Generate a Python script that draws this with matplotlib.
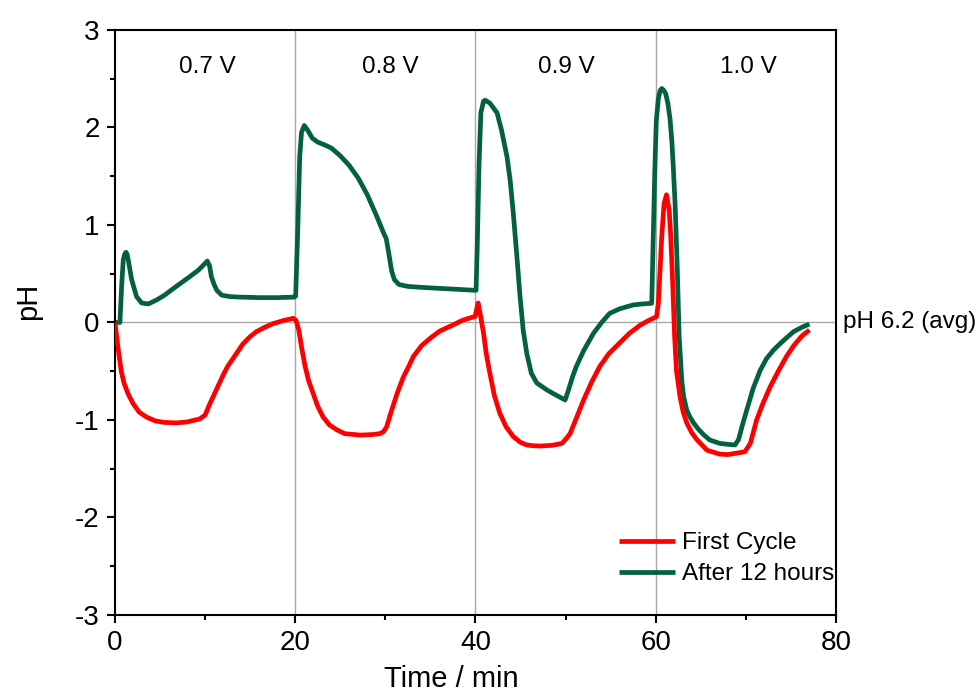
import matplotlib
matplotlib.use("Agg")
import matplotlib.pyplot as plt
from matplotlib.ticker import MultipleLocator
import matplotlib.transforms as mtransforms

plt.rcParams['font.family'] = ['Liberation Sans', 'DejaVu Sans']
plt.rcParams['axes.unicode_minus'] = False

# ---- data ----
t_after = [0.0, 0.55, 0.74, 0.92, 1.08, 1.22, 1.35, 1.48, 1.85, 2.4, 2.96, 3.7, 4.6, 5.5, 6.5, 7.4, 8.3,
           9.3, 10.25, 10.5, 10.7, 11.0, 11.3, 11.85, 12.8, 14.0, 16.0, 18.0, 19.9,
           20.05, 20.3, 20.5, 20.7, 21.0, 21.4, 21.9, 22.5, 23.3, 24.0, 25.0, 26.0, 27.0, 28.0,
           29.0, 29.8, 30.1, 30.4, 30.7, 31.0, 31.5, 32.5, 34.0, 36.0, 38.0, 39.9,
           40.07, 40.2, 40.4, 40.6, 40.9, 41.07, 41.6, 42.4, 42.9, 43.5, 43.85, 44.2, 44.6, 44.95,
           45.3, 45.7, 46.2, 46.8, 47.9, 48.65, 49.95, 50.3, 50.8, 51.2, 52.0, 53.1, 54.0, 54.9,
           56.0, 57.5, 58.5, 59.56,
           59.9, 60.07, 60.3, 60.5, 60.68, 60.9, 61.1, 61.35, 61.6, 61.8, 61.97, 62.15, 62.4, 62.6,
           62.9, 63.1, 63.45, 63.8, 64.2, 64.7, 65.3, 66.0, 67.1, 68.0, 68.8, 69.2, 69.6, 70.1,
           70.8, 71.6, 72.3, 73.1, 74.0, 75.3, 76.2, 77.06]
ph_after = [0.00, 0.00, 0.37, 0.64, 0.70, 0.72, 0.70, 0.64, 0.44, 0.265, 0.20, 0.19, 0.23, 0.28, 0.35, 0.41, 0.47,
            0.54, 0.63, 0.58, 0.47, 0.39, 0.33, 0.28, 0.265, 0.26, 0.255, 0.255, 0.26,
            0.27, 1.00, 1.70, 1.95, 2.02, 1.97, 1.89, 1.85, 1.82, 1.79, 1.71, 1.61, 1.48, 1.31,
            1.10, 0.92, 0.86, 0.70, 0.53, 0.44, 0.39, 0.37, 0.36, 0.35, 0.34, 0.33,
            0.33, 0.78, 1.63, 2.15, 2.27, 2.28, 2.25, 2.15, 1.97, 1.70, 1.46, 1.12, 0.675, 0.265,
            -0.08, -0.32, -0.52, -0.62, -0.69, -0.73, -0.795, -0.70, -0.55, -0.45, -0.29, -0.11, 0.00, 0.094,
            0.14, 0.18, 0.19, 0.197,
            1.56, 2.07, 2.30, 2.38, 2.40, 2.38, 2.35, 2.25, 2.08, 1.85, 1.56, 1.22, 0.54, -0.14,
            -0.60, -0.76, -0.90, -0.97, -1.03, -1.09, -1.15, -1.205, -1.24, -1.25, -1.256, -1.20, -1.06, -0.90,
            -0.68, -0.49, -0.37, -0.28, -0.20, -0.094, -0.05, -0.016]

t_first = [0.0, 0.2, 0.4, 0.7, 1.0, 1.5, 2.0, 2.7, 3.5, 4.5, 5.5, 6.8, 8.0, 9.4, 10.0, 10.5, 11.0,
           11.5, 12.0, 12.5, 13.1, 14.2, 15.0, 15.7, 16.6, 17.6, 18.7, 19.8,
           20.1, 20.4, 20.7, 21.1, 21.5, 22.0, 22.5, 23.1, 23.8, 24.6, 25.5, 27.2, 28.5, 29.4,
           29.8, 30.15, 30.6, 31.3, 32.0, 32.6, 33.1, 34.0, 35.0, 36.0, 37.5, 38.5, 39.5, 39.95,
           40.3, 40.6, 40.9, 41.2, 41.6, 42.1, 42.7, 43.4, 44.2, 45.0, 45.7, 46.5, 47.2, 48.5,
           49.6, 50.0, 50.5, 51.2, 52.0, 52.9, 53.8, 54.8, 56.0, 57.1, 58.3, 59.2, 60.1,
           60.3, 60.67, 60.93, 61.2, 61.5, 61.67, 61.9, 62.1, 62.3, 62.7, 63.05, 63.45, 64.0,
           64.6, 65.7, 67.1, 68.0, 69.0, 69.9, 70.5, 71.2, 71.9, 72.7, 73.6, 74.5, 75.3,
           76.2, 77.06]
ph_first = [0.00, -0.15, -0.30, -0.50, -0.62, -0.74, -0.83, -0.92, -0.97, -1.01, -1.025, -1.03, -1.02, -0.99, -0.95, -0.84, -0.74,
            -0.64, -0.54, -0.45, -0.37, -0.22, -0.145, -0.094, -0.05, -0.01, 0.02, 0.043,
            0.02, -0.08, -0.25, -0.45, -0.60, -0.73, -0.86, -0.97, -1.05, -1.10, -1.14, -1.155, -1.15, -1.14,
            -1.12, -1.07, -0.93, -0.73, -0.56, -0.45, -0.35, -0.24, -0.16, -0.09, -0.026, 0.02, 0.05, 0.06,
            0.20, 0.05, -0.11, -0.32, -0.52, -0.75, -0.93, -1.07, -1.17, -1.23, -1.256, -1.265, -1.267, -1.26,
            -1.24, -1.20, -1.14, -0.98, -0.795, -0.61, -0.45, -0.32, -0.21, -0.11, -0.026, 0.02, 0.06,
            0.20, 0.88, 1.22, 1.31, 1.15, 0.88, 0.37, -0.145, -0.49, -0.76, -0.92, -1.03, -1.13,
            -1.205, -1.31, -1.35, -1.355, -1.34, -1.325, -1.24, -1.00, -0.83, -0.66, -0.50, -0.35, -0.24,
            -0.14, -0.077]

voltage_labels = ["0.7 V", "0.8 V", "0.9 V", "1.0 V"]
voltage_label_t = [10.2, 30.6, 50.1, 70.3]
step_boundaries = [20, 40, 60]
series_labels = ["First Cycle", "After 12 hours"]
ref_label = "pH 6.2 (avg)"

# ---- plot ----
fig = plt.figure(figsize=(9.8, 6.99), dpi=100)
ax = fig.add_axes([0.1173, 0.1202, 0.7357, 0.8369])

for xv in step_boundaries:
    ax.axvline(xv, color='#a8a8a8', lw=1.0, zorder=1)
ax.axhline(0, color='#a8a8a8', lw=1.0, zorder=1)

ax.plot(t_first, ph_first, color='#ff0000', lw=3.4, label=series_labels[0], zorder=3,
        solid_joinstyle='round', solid_capstyle='butt')
ax.plot(t_after, ph_after, color='#04613f', lw=3.4, label=series_labels[1], zorder=2,
        solid_joinstyle='round', solid_capstyle='butt')

for lab, tv in zip(voltage_labels, voltage_label_t):
    ax.text(tv, 2.62, lab, ha='center', va='center', fontsize=17.5)

trans = mtransforms.blended_transform_factory(ax.transAxes, ax.transData)
ax.text(1.0097, 0.0, ref_label, transform=trans, ha='left', va='center', fontsize=17.5,
        clip_on=False)

ax.set_xlim(0, 80)
ax.set_ylim(-3, 3)
ax.xaxis.set_major_locator(MultipleLocator(20))
ax.xaxis.set_minor_locator(MultipleLocator(10))
ax.yaxis.set_major_locator(MultipleLocator(1))
ax.yaxis.set_minor_locator(MultipleLocator(0.5))
ax.tick_params(which='major', direction='out', length=6, width=1.5, labelsize=20, pad=5)
ax.tick_params(which='minor', direction='out', length=3.5, width=1.5)
for sp in ax.spines.values():
    sp.set_linewidth(1.5)

ax.set_xlabel("Time / min", fontsize=21)
ax.xaxis.set_label_coords(0.466, -0.0855)
ax.set_ylabel("pH", fontsize=21)
ax.yaxis.set_label_coords(-0.101, 0.536)

leg = ax.legend(loc='upper left', bbox_to_anchor=(0.699, 0.1415), frameon=False,
                fontsize=17.5, handlelength=2.3, handletextpad=0.3, borderpad=0,
                borderaxespad=0, labelspacing=0.37)

fig.savefig("out.png", dpi=100)
